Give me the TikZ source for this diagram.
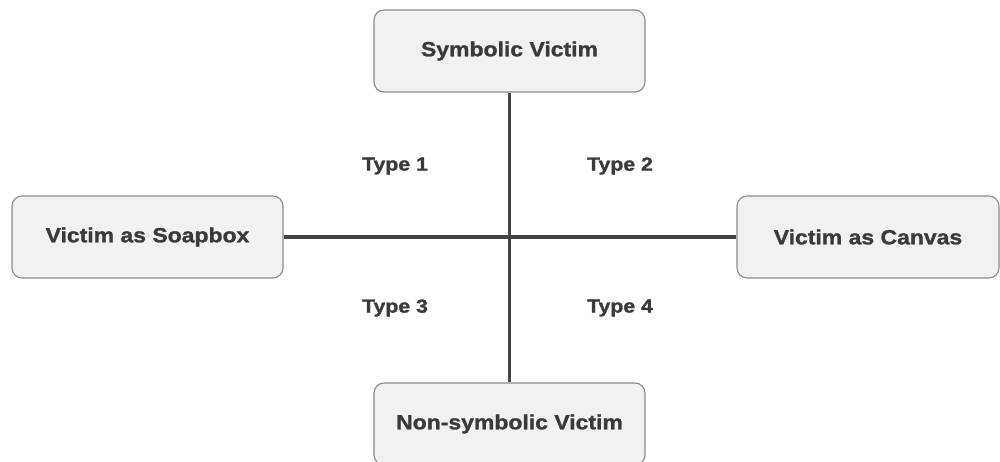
\documentclass[tikz,border=0pt]{standalone}
\usepackage{fontspec}
\setmainfont{Liberation Sans}[FakeStretch=1.12,BoldFeatures={FakeBold=1.3}]
\definecolor{boxfill}{HTML}{F1F1F1}
\definecolor{boxline}{HTML}{8A8A8A}
\definecolor{txt}{HTML}{3A3A3A}
\definecolor{axis}{HTML}{444444}
\begin{document}
\begin{tikzpicture}[x=1pt,y=-1pt,
  vbox/.style={draw=boxline,fill=boxfill,line width=1.1pt,rounded corners=10pt,
    minimum width=271pt,minimum height=82pt,inner sep=0pt,
    font=\fontsize{20.5}{24}\selectfont\bfseries,text=txt},
  lbl/.style={font=\fontsize{19}{22}\selectfont\bfseries,text=txt,inner sep=0pt},
  axisline/.style={draw=axis,line width=3pt}]
\useasboundingbox (0,0) rectangle (1000,462);
\clip (0,0) rectangle (1000,462);
\node[vbox] (top) at (509.5,51) {Symbolic Victim};
\node[vbox] (left) at (147.5,237) {Victim as Soapbox};
\node[vbox,minimum width=262pt] (right) at (868,237) {Victim as Canvas};
\node[vbox] (bot) at (509.5,424) {Non-symbolic Victim};
\draw[axisline] (top.south) -- (bot.north);
\draw[axisline] (left.east) -- (right.west);
\node[lbl] (t1) at (395,166) {Type 1};
\node[lbl] (t2) at (620,166) {Type 2};
\node[lbl] (t3) at (395,308) {Type 3};
\node[lbl] (t4) at (620,308) {Type 4};
\end{tikzpicture}
\end{document}
